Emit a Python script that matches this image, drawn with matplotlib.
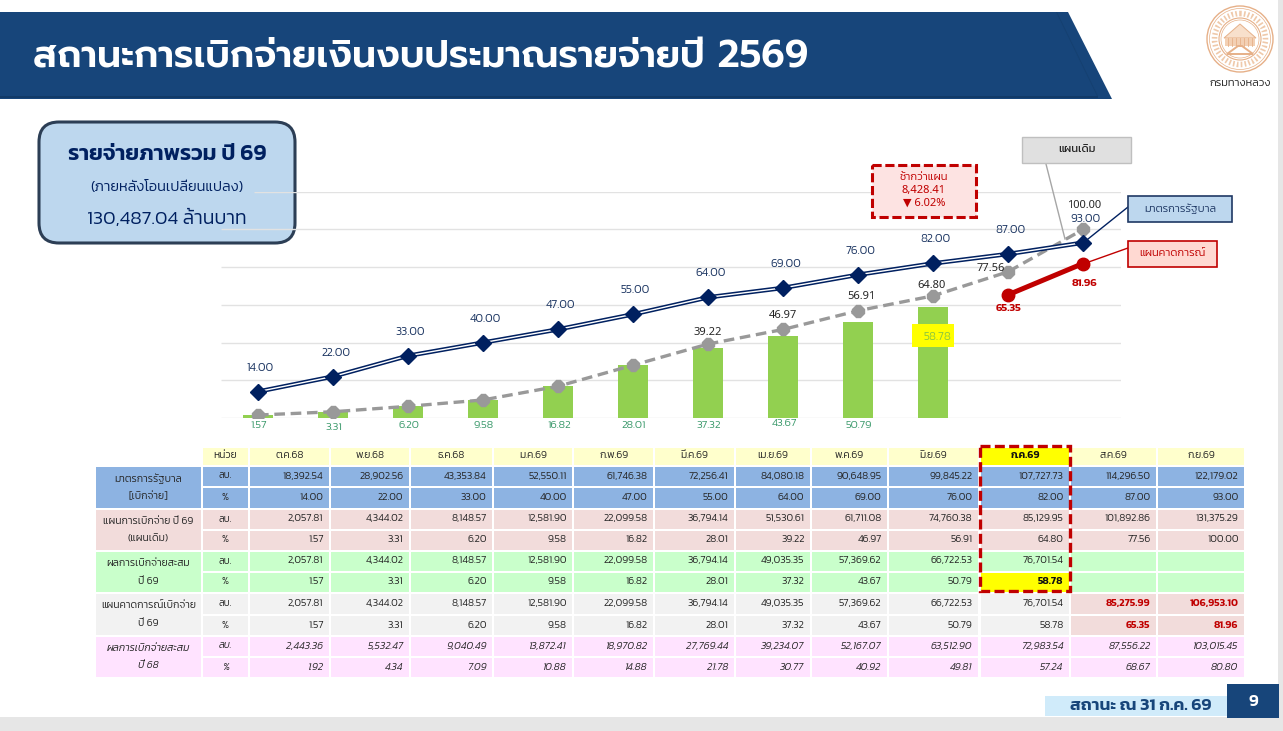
#!/usr/bin/env python3
"""Budget disbursement slide: combo chart with a monthly table below."""

import matplotlib
matplotlib.use('Agg')
import matplotlib.pyplot as plt
import numpy as np
from matplotlib.patches import Circle, FancyBboxPatch, Polygon, Rectangle

W, H = 1283, 731

months = ['ต.ค.68', 'พ.ย.68', 'ธ.ค.68', 'ม.ค.69', 'ก.พ.69', 'มี.ค.69',
          'เม.ย.69', 'พ.ค.69', 'มิ.ย.69', 'ก.ค.69', 'ส.ค.69', 'ก.ย.69']

gov_mb = ['18,392.54', '28,902.56', '43,353.84', '52,550.11', '61,746.38', '72,256.41',
          '84,080.18', '90,648.95', '99,845.22', '107,727.73', '114,296.50', '122,179.02']
gov_pct = [14.00, 22.00, 33.00, 40.00, 47.00, 55.00, 64.00, 69.00, 76.00, 82.00, 87.00, 93.00]

plan_mb = ['2,057.81', '4,344.02', '8,148.57', '12,581.90', '22,099.58', '36,794.14',
           '51,530.61', '61,711.08', '74,760.38', '85,129.95', '101,892.86', '131,375.29']
plan_pct = [1.57, 3.31, 6.20, 9.58, 16.82, 28.01, 39.22, 46.97, 56.91, 64.80, 77.56, 100.00]

actual_mb = ['2,057.81', '4,344.02', '8,148.57', '12,581.90', '22,099.58', '36,794.14',
             '49,035.35', '57,369.62', '66,722.53', '76,701.54']
actual_pct = [1.57, 3.31, 6.20, 9.58, 16.82, 28.01, 37.32, 43.67, 50.79, 58.78]

forecast_mb = actual_mb + ['85,275.99', '106,953.10']
forecast_pct = actual_pct + [65.35, 81.96]

prev_mb = ['2,443.36', '5,532.47', '9,040.49', '13,872.41', '18,970.82', '27,769.44',
           '39,234.07', '52,167.07', '63,512.90', '72,983.54', '87,556.22', '103,015.45']
prev_pct = [1.92, 4.34, 7.09, 10.88, 14.88, 21.78, 30.77, 40.92, 49.81, 57.24, 68.67, 80.80]

NAVY = '#002060'
BANNER = '#17457A'
RED = '#C00000'
GREEN_BAR = '#92D050'
GREEN_TXT = '#3C9A6C'
GREY = '#999999'
TXT = '#262626'
SEAL = '#E6B088'
THAI = ['Kanit', 'Loma', 'DejaVu Sans']
TITLE = ['Prompt', 'Kanit', 'Loma', 'DejaVu Sans']
SANS = ['Noto Sans', 'DejaVu Sans']

fig = plt.figure(figsize=(W / 100, H / 100), dpi=100, facecolor='white')


def overlay(z):
    ax = fig.add_axes([0, 0, 1, 1], zorder=z)
    ax.set_xlim(0, W)
    ax.set_ylim(H, 0)
    ax.axis('off')
    ax.patch.set_alpha(0)
    return ax


bg = overlay(0)
fg = overlay(3)


def label(ax, x, y, s, size=8, color=TXT, weight=300, ha='center', style='normal', family=THAI):
    return ax.text(x, y, s, fontsize=size, color=color, fontweight=weight, ha=ha, va='center',
                   fontstyle=style, family=family, zorder=8)


def rect(ax, x0, y0, x1, y1, fc, ec='none', lw=0, ls='-', z=1):
    ax.add_patch(Rectangle((x0, y0), x1 - x0, y1 - y0, facecolor=fc, edgecolor=ec,
                           linewidth=lw, linestyle=ls, zorder=z))


# page furniture
rect(bg, 0, 717, W, H, '#E6E6E6')
rect(bg, 1278, 0, W, H, '#E6E6E6')
bg.add_patch(Polygon([(0, 12), (1068, 12), (1112, 99), (0, 99)], facecolor=BANNER, edgecolor='none'))
bg.add_patch(Polygon([(1056, 12), (1057, 12), (1098, 96), (1097, 96)], facecolor='#154070', edgecolor='none', zorder=2))
rect(bg, 0, 96, 1098, 98, '#123A68', z=2)
label(bg, 33, 57, 'สถานะการเบิกจ่ายเงินงบประมาณรายจ่ายปี 2569', size=27, color='white', weight=600, ha='left',
      family=TITLE)

# seal
cx, cy = 1240, 39
for r, lw in [(33, 1.0), (30.5, 0.5), (21, 0.8), (19, 0.5)]:
    bg.add_patch(Circle((cx, cy), r, fill=False, edgecolor=SEAL, linewidth=lw, zorder=3))
bg.add_patch(Circle((cx, cy), 25.5, fill=False, edgecolor='#EFC9AA', linewidth=4, linestyle=(0, (0.3, 0.4))))
bg.add_patch(Polygon([(cx - 16, cy - 1), (cx, cy - 15), (cx + 16, cy - 1)], facecolor='#F8E0CC',
                     edgecolor=SEAL, linewidth=0.7, zorder=3))
rect(bg, cx - 15, cy - 1, cx + 15, cy + 7, '#F3D0B4', z=3)
for dx in np.arange(-12, 13, 4):
    bg.plot([cx + dx, cx + dx], [cy - 1, cy + 7], color=SEAL, linewidth=0.6, zorder=4)
bg.add_patch(Polygon([(cx - 13, cy + 15), (cx - 2, cy + 7), (cx + 2, cy + 7), (cx + 13, cy + 15)],
                     facecolor='#FFFFFF', edgecolor=SEAL, linewidth=1.4, zorder=3))
label(bg, 1240, 84, 'กรมทางหลวง', size=8, color='#222222')

# summary box
bg.add_patch(FancyBboxPatch((39 + 20, 122 + 20), 256 - 40, 121 - 40, boxstyle='round,pad=20,rounding_size=20',
                            facecolor='#BDD7EE', edgecolor='#2C3E55', linewidth=2.2, mutation_aspect=1))
label(bg, 167, 154, 'รายจ่ายภาพรวม ปี 69', size=16, color=NAVY, weight=600)
label(bg, 167, 188, '(ภายหลังโอนเปลี่ยนแปลง)', size=10.5, color=NAVY, weight=300)
label(bg, 167, 219, '130,487.04 ล้านบาท', size=14, color=NAVY, weight=300)

# chart, 1.885 px per percentage point and 75 px per month
ax = fig.add_axes([220.5 / W, 1 - 418 / H, 900 / W, 226.2 / H], zorder=2)
ax.patch.set_alpha(0)
ax.set_xlim(-0.5, 11.5)
ax.set_ylim(0, 120)
for s in ax.spines.values():
    s.set_visible(False)
ax.set_xticks([])
ax.set_yticks([])
x = np.arange(len(months))
ax.hlines(np.arange(0, 120, 20), -0.5, 11.5, color='#E2E2E2', linewidth=1, zorder=0)
ax.hlines(120, -0.06, 11.5, color='#E2E2E2', linewidth=1, zorder=0)

ax.bar(x[:len(actual_pct)], actual_pct, width=0.4, color=GREEN_BAR, zorder=1)
ax.plot(x, gov_pct, color=NAVY, linewidth=3.2, zorder=3)
ax.plot(x, gov_pct, color='white', linewidth=1, zorder=3)
ax.plot(x, gov_pct, linestyle='none', marker='D', markersize=8.5, color=NAVY, zorder=4)
ax.plot(x, plan_pct, color=GREY, linewidth=2.4, linestyle=(0, (3.2, 1.7)), zorder=2)
ax.plot(x, plan_pct, linestyle='none', marker='8', markersize=9, color=GREY, zorder=2)
ax.plot(x[10:], forecast_pct[10:], color=RED, linewidth=3.6, marker='o', markersize=9, zorder=4)


def note(i, v, s, dx, dy, **kw):
    ax.annotate(s, (i, v), xytext=(dx, dy), textcoords='offset pixels', ha='center', va='center',
                zorder=6, **kw)


for i, v in enumerate(gov_pct):
    note(i, v, f'{v:.2f}', 2.5, 24, fontsize=8.5, color='#1F3864', family=THAI, fontweight=300)

plan_offsets = {6: (0, 12), 7: (0, 13.5), 8: (3, 14), 9: (-1, 10), 10: (-17, 3), 11: (1, 24)}
for i, (dx, dy) in plan_offsets.items():
    note(i, plan_pct[i], f'{plan_pct[i]:.2f}', dx, dy, fontsize=8, color='#262626', family=SANS)

for i, dy in {10: -14, 11: -19.5}.items():
    note(i, forecast_pct[i], f'{forecast_pct[i]:.2f}', 1, dy, fontsize=8, color=RED, family=THAI, fontweight=600)

bar_shift = [0, 2, 0, 0, 0, 0, 1, -1, 0]
for i, v in enumerate(actual_pct[:9]):
    ax.annotate(f'{v:.2f}', (i, 0), xytext=(1, -7 - bar_shift[i]), textcoords='offset pixels', ha='center',
                va='center', fontsize=8, color=GREEN_TXT, family=THAI, fontweight=300, zorder=6)
rect(fg, 912, 324, 954, 347, '#FFFF00', z=2)
label(fg, 937, 337, f'{actual_pct[9]:.2f}', size=8.5, color='#8CC63F')

# callouts
rect(fg, 872, 165, 976, 217, '#FDE3E2', RED, 2.2, (0, (3, 1.2)), z=4)
label(fg, 924, 177, 'ช้ากว่าแผน', size=8, color=RED)
label(fg, 924, 190, '8,428.41', size=8, color=RED, family=SANS, weight=400)
label(fg, 924, 203, '▼ 6.02%', size=8, color=RED, family=SANS, weight=400)
fg.plot([1046, 1065], [164, 239], color='#A6A6A6', linewidth=1, zorder=3)
rect(fg, 1022, 137, 1131, 163, '#E0E0E0', '#BFBFBF', 1, z=4)
label(fg, 1077, 150, 'แผนเดิม', size=8, color='#222222', weight=400)
fg.plot([1128, 1083], [207, 243], color=NAVY, linewidth=1, zorder=3)
rect(fg, 1128, 196, 1232, 222, '#BDD7EE', '#1F3864', 1.2, z=4)
label(fg, 1180, 209, 'มาตรการรัฐบาล', size=8, color='#1F3864')
fg.plot([1128, 1083], [248, 264], color=RED, linewidth=1, zorder=3)
rect(fg, 1128, 241, 1217, 267, '#FFD9D2', RED, 1.2, z=4)
label(fg, 1172, 254, 'แผนคาดการณ์', size=8, color=RED)

# table
col_edges = [(250, 329), (331, 409), (411, 492), (494, 572), (574, 653), (655, 734),
             (736, 810), (812, 887), (889, 978), (981, 1069), (1071, 1156), (1158, 1244)]
row_edges = [(467, 486), (488, 508), (510, 529), (531, 550), (552, 571), (573, 592),
             (594, 614), (616, 635), (637, 656), (658, 677)]
CREAM = '#FFFFCC'
rect(bg, 203, 448, 248, 465, CREAM)
label(bg, 225.5, 456, 'หน่วย', size=7.5)
for j, (a, b) in enumerate(col_edges):
    hot = months[j] == 'ก.ค.69'
    rect(bg, a, 448, b, 465, '#FFFF00' if hot else CREAM)
    label(bg, (a + b) / 2, 456, months[j], size=7.5, weight=600 if hot else 300,
          color='#111111' if hot else TXT)

groups = [
    ('#8DB3E2', 'มาตรการรัฐบาล', '[เบิกจ่าย]', gov_mb, gov_pct, 'normal'),
    ('#F2DCDB', 'แผนการเบิกจ่าย ปี 69', '(แผนเดิม)', plan_mb, plan_pct, 'normal'),
    ('#C9FFCB', 'ผลการเบิกจ่ายสะสม', 'ปี 69', actual_mb, actual_pct, 'normal'),
    ('#F2F2F2', 'แผนคาดการณ์เบิกจ่าย', 'ปี 69', forecast_mb, forecast_pct, 'normal'),
    ('#FFE3FF', 'ผลการเบิกจ่ายสะสม', 'ปี 68', prev_mb, prev_pct, 'italic'),
]
for g, (col, line1, line2, mb, pct, style) in enumerate(groups):
    top, bot = row_edges[2 * g][0], row_edges[2 * g + 1][1]
    rect(bg, 96, top, 201, bot, col)
    label(bg, 148.5, (top + row_edges[2 * g][1]) / 2 + 2, line1, size=7.5, style=style)
    label(bg, 148.5, (row_edges[2 * g + 1][0] + bot) / 2 - 1.5, line2, size=7.5, style=style)
    for r, (unit, vals) in enumerate([('ลบ.', mb), ('%', [f'{v:.2f}' for v in pct])]):
        y0, y1 = row_edges[2 * g + r]
        rect(bg, 203, y0, 248, y1, col)
        label(bg, 225.5, (y0 + y1) / 2 - 0.5, unit, size=7, style=style)
        for j, (a, b) in enumerate(col_edges):
            fc, color, weight = col, TXT, 300
            if g == 3 and j >= 10:
                fc, color, weight = '#F2DCDB', RED, 600
            if g == 2 and r == 1 and j == 9:
                fc, color, weight = '#FFFF00', '#111111', 600
            rect(bg, a, y0, b, y1, fc)
            if j < len(vals):
                label(bg, b - 5.5, (y0 + y1) / 2 - 0.5, vals[j], size=7.5, ha='right', color=color,
                      weight=weight, style=style)

rect(fg, 980, 446, 1070, 591, 'none', RED, 2.4, (0, (3, 1.3)), z=5)

# footer
rect(bg, 1045, 696, 1227, 716, '#D0EBFA')
label(bg, 1141, 706, 'สถานะ ณ 31 ก.ค. 69', size=12.5, color=BANNER, weight=600)
rect(bg, 1227, 684, 1279, 718, BANNER, z=2)
label(bg, 1253, 702, '9', size=12, color='white', weight=600, family=['Kanit', 'DejaVu Sans'])

fig.savefig('out.png', dpi=100, facecolor='white')
